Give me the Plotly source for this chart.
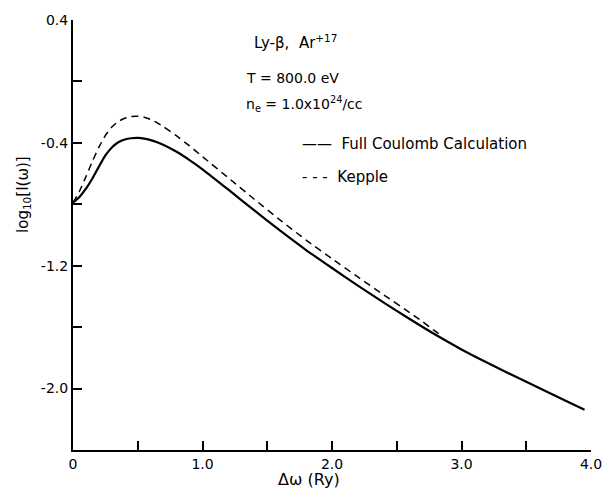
import plotly.graph_objects as go

# Full Coulomb calculation (solid)
x_full = [0.0, 0.05, 0.1, 0.15, 0.2, 0.25, 0.3, 0.35, 0.4, 0.45, 0.5, 0.55, 0.6, 0.65, 0.7, 0.8, 0.9,
          1.0, 1.2, 1.4, 1.6, 1.8, 2.0, 2.2, 2.4, 2.6, 2.8, 3.0, 3.2, 3.4, 3.6, 3.8, 3.95]
y_full = [-0.79, -0.752, -0.698, -0.632, -0.555, -0.482, -0.43, -0.396, -0.378, -0.37, -0.368, -0.372,
          -0.382, -0.396, -0.414, -0.458, -0.512, -0.572, -0.705, -0.84, -0.972, -1.098, -1.215, -1.33,
          -1.44, -1.547, -1.65, -1.745, -1.832, -1.915, -1.997, -2.078, -2.138]

# Kepple (dashed)
x_kep = [0.0, 0.05, 0.1, 0.15, 0.2, 0.25, 0.3, 0.35, 0.4, 0.45, 0.5, 0.55, 0.6, 0.65, 0.7, 0.8, 0.9,
         1.0, 1.2, 1.4, 1.6, 1.8, 2.0, 2.2, 2.4, 2.6, 2.7, 2.8, 2.85]
y_kep = [-0.79, -0.715, -0.62, -0.52, -0.428, -0.352, -0.297, -0.261, -0.24, -0.229, -0.227, -0.233,
         -0.248, -0.27, -0.296, -0.355, -0.42, -0.49, -0.628, -0.767, -0.903, -1.033, -1.155, -1.273,
         -1.39, -1.505, -1.565, -1.628, -1.66]

x_ticks = [0, 0.5, 1.0, 1.5, 2.0, 2.5, 3.0, 3.5, 4.0]
x_ticktext = ["0", "", "1.0", "", "2.0", "", "3.0", "", "4.0"]
y_ticks = [0.4, 0.0, -0.4, -0.8, -1.2, -1.6, -2.0]
y_ticktext = ["0.4", "", "-0.4", "", "-1.2", "", "-2.0"]

FONT = "DejaVu Sans"

fig = go.Figure()
fig.add_trace(go.Scatter(x=x_full, y=y_full, mode="lines",
                         line=dict(color="black", width=2.2, shape="spline", smoothing=0.5),
                         showlegend=False))
fig.add_trace(go.Scatter(x=x_kep, y=y_kep, mode="lines",
                         line=dict(color="black", width=1.5, dash="7px,5px", shape="spline", smoothing=0.5),
                         showlegend=False))

fig.update_layout(
    width=614, height=491,
    margin=dict(l=73, r=15, t=18, b=41),
    paper_bgcolor="white", plot_bgcolor="white",
    font=dict(family=FONT, size=13, color="black"),
    xaxis=dict(range=[0, 4], tickvals=x_ticks, ticktext=x_ticktext, ticks="inside", ticklen=9,
               tickwidth=1.5, tickcolor="black", showline=True, linecolor="black", linewidth=2,
               showgrid=False, zeroline=False, tickfont=dict(size=14)),
    yaxis=dict(range=[-2.4, 0.4], tickvals=y_ticks, ticktext=y_ticktext, ticks="inside", ticklen=9,
               tickwidth=1.5, tickcolor="black", showline=True, linecolor="black", linewidth=2,
               showgrid=False, zeroline=False, tickfont=dict(size=14)),
)

ann = [
    dict(text="Ly-β,  Ar<sup>+17</sup>", x=255, y=40, size=15),
    dict(text="T = 800.0 eV", x=247, y=76, size=14),
    dict(text="n<sub>e</sub> = 1.0x10<sup>24</sup>/cc", x=247, y=102, size=14),
    dict(text="——  Full Coulomb Calculation", x=304, y=143, size=15),
    dict(text="- - -  Kepple", x=304, y=176, size=15),
]
for a in ann:
    fig.add_annotation(text=a["text"], xref="paper", yref="paper",
                       x=(a["x"] - 73) / (614 - 73 - 15), y=1 - (a["y"] - 18) / (491 - 18 - 41),
                       xanchor="left", yanchor="middle", showarrow=False,
                       font=dict(family=FONT, size=a["size"], color="black"))

fig.add_annotation(text="Δω (Ry)", xref="paper", yref="paper",
                   x=(313 - 73) / 526, y=-(480 - 450) / 432, xanchor="center", yanchor="middle",
                   showarrow=False, font=dict(family=FONT, size=16, color="black"))
fig.add_annotation(text="log<sub>10</sub>[I(ω)]", xref="paper", yref="paper",
                   x=-(73 - 22) / 526, y=1 - (193 - 18) / 432, xanchor="center", yanchor="middle",
                   textangle=-90, showarrow=False, font=dict(family=FONT, size=15, color="black"))

fig.write_html("out.html")
